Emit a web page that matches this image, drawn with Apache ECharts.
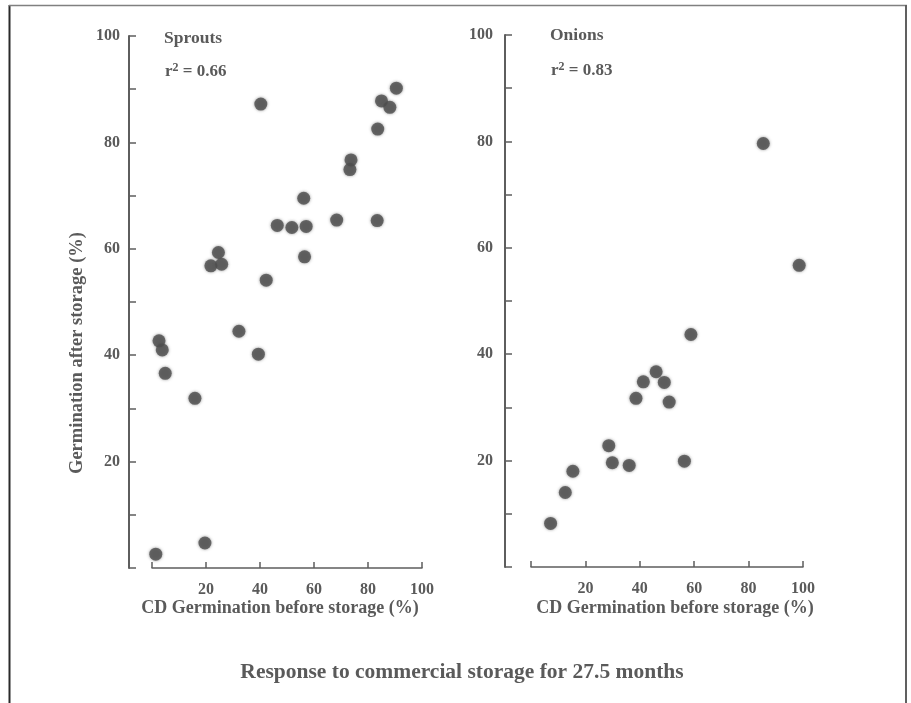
<!DOCTYPE html>
<html>
<head>
<meta charset="utf-8">
<script src="https://cdn.jsdelivr.net/npm/echarts@6/dist/echarts.min.js"></script>
<style>html,body{margin:0;padding:0;background:#fff;}#c{width:911px;height:703px;}</style>
</head>
<body>
<div id="c"></div>
<script>
// Sprouts panel
const sproutsX = [90.5, 85.0, 88.1, 40.3, 83.6, 73.7, 73.3, 56.2, 46.4, 51.8, 57.1, 68.4, 83.4, 56.5, 24.6, 21.8, 25.8, 42.3, 32.2, 39.4, 2.6, 3.8, 4.9, 15.9, 19.6, 1.4];
const sproutsY = [90.2, 87.8, 86.6, 87.2, 82.5, 76.7, 74.9, 69.5, 64.4, 64.0, 64.2, 65.4, 65.3, 58.5, 59.3, 56.8, 57.1, 54.1, 44.5, 40.2, 42.7, 41.0, 36.6, 31.9, 4.7, 2.6];
// Onions panel
const onionsX = [85.4, 98.6, 58.8, 46.0, 41.3, 49.0, 38.6, 50.8, 28.6, 29.9, 36.1, 56.4, 15.4, 12.6, 7.2];
const onionsY = [79.6, 56.7, 43.7, 36.7, 34.8, 34.7, 31.7, 31.0, 22.8, 19.6, 19.1, 19.9, 18.0, 14.0, 8.2];
const xTicks = [0, 20, 40, 60, 80, 100];
const yTicks = [0, 20, 40, 60, 80, 100];
const panelNames = ['Sprouts', 'Onions'];
const r2Values = ['0.66', '0.83'];
const xTitle = 'CD Germination before storage (%)';
const yTitle = 'Germination after storage (%)';
const mainTitle = 'Response to commercial storage for 27.5 months';

const FONT = '"Liberation Serif", "DejaVu Serif", serif';
const TXT = '#5a5a5a';
const AX = '#5e5e5e';

const xMin = xTicks[0], xMax = xTicks[xTicks.length - 1], xStep = xTicks[1] - xTicks[0];
const yMin = yTicks[0], yMax = yTicks[yTicks.length - 1], yStep = yTicks[1] - yTicks[0];

function xAxisCfg(gi) {
  return {
    gridIndex: gi, type: 'value', min: xMin, max: xMax, interval: xStep,
    axisLine: { show: true, onZero: false, lineStyle: { color: AX, width: 1.5 } },
    axisTick: { show: true, inside: true, length: 6, lineStyle: { color: AX, width: 1.5 } },
    splitLine: { show: false },
    axisLabel: { margin: 14, fontFamily: FONT, fontWeight: 'bold', fontSize: 16, color: TXT,
      formatter: v => (v === 0 ? '' : String(v)) }
  };
}
// y axis drawn as the left axis of a grid whose x range starts a little below 0
function yGridX(gi, lo) {
  return { gridIndex: gi, type: 'value', min: lo, max: xMax, show: false };
}
function yAxisCfg(gi, margin) {
  return {
    gridIndex: gi, type: 'value', min: yMin, max: yMax, interval: yStep,
    axisLine: { show: true, onZero: false, lineStyle: { color: AX, width: 2 } },
    axisTick: { show: true, inside: true, length: 7, lineStyle: { color: AX, width: 1.5 } },
    minorTick: { show: true, splitNumber: 2, length: 7, lineStyle: { color: AX, width: 1.5 } },
    splitLine: { show: false }, minorSplitLine: { show: false },
    axisLabel: { margin: margin, fontFamily: FONT, fontWeight: 'bold', fontSize: 16, color: TXT,
      formatter: v => (v === 0 ? '' : String(v)) }
  };
}
function hiddenY(gi) {
  return { gridIndex: gi, type: 'value', min: yMin, max: yMax, show: false };
}
const dotStyle = { color: '#4e4e4e', shadowBlur: 3, shadowColor: 'rgba(70,70,70,0.7)' };

function panelTitle(name, r2, left, topName, topR2) {
  return [
    { text: name, left: left, top: topName,
      textStyle: { fontFamily: FONT, fontWeight: 'bold', fontSize: 17.5, color: TXT } },
    { text: 'r{s|2} = ' + r2, left: left + 1, top: topR2,
      textStyle: { fontFamily: FONT, fontWeight: 'bold', fontSize: 17, color: TXT,
        rich: { s: { fontFamily: FONT, fontWeight: 'bold', fontSize: 12, color: TXT, verticalAlign: 'top', padding: [0, 0, 8, 0] } } } }
  ];
}

const chart = echarts.init(document.getElementById('c'), null, { renderer: 'canvas' });
chart.setOption({
  backgroundColor: '#ffffff',
  animation: false,
  title: [].concat(
    panelTitle(panelNames[0], r2Values[0], 159, 24, 57),
    panelTitle(panelNames[1], r2Values[1], 545, 21, 56)
  ),
  grid: [
    { left: 152, top: 36, width: 270, height: 532 },
    { left: 531, top: 35, width: 272, height: 532 },
    { left: 129, top: 36, width: 293, height: 532 },
    { left: 505, top: 35, width: 298, height: 532 }
  ],
  xAxis: [xAxisCfg(0), xAxisCfg(1), yGridX(2, -8.5), yGridX(3, -9.6)],
  yAxis: [hiddenY(0), hiddenY(1), yAxisCfg(2, 9), yAxisCfg(3, 12)],
  series: [
    { type: 'scatter', xAxisIndex: 0, yAxisIndex: 0, symbolSize: 13, itemStyle: dotStyle,
      data: sproutsX.map((x, i) => [x, sproutsY[i]]) },
    { type: 'scatter', xAxisIndex: 1, yAxisIndex: 1, symbolSize: 13, itemStyle: dotStyle,
      data: onionsX.map((x, i) => [x, onionsY[i]]) }
  ],
  graphic: [
    { type: 'line', shape: { x1: 9.5, y1: 5, x2: 9.5, y2: 703 }, style: { stroke: '#2a2a2a', lineWidth: 2 } },
    { type: 'line', shape: { x1: 9, y1: 5.5, x2: 907, y2: 5.5 }, style: { stroke: '#808080', lineWidth: 1.5 } },
    { type: 'line', shape: { x1: 906, y1: 5, x2: 906, y2: 703 }, style: { stroke: '#606060', lineWidth: 2 } },
    { type: 'text', x: 77, y: 353, rotation: Math.PI / 2,
      style: { text: yTitle, fontFamily: FONT, fontWeight: 'bold', fontSize: 18.5, fill: TXT,
        textAlign: 'center', textVerticalAlign: 'middle' } },
    { type: 'text', x: 280, y: 608,
      style: { text: xTitle, fontFamily: FONT, fontWeight: 'bold', fontSize: 18, fill: TXT,
        textAlign: 'center', textVerticalAlign: 'middle' } },
    { type: 'text', x: 675, y: 608,
      style: { text: xTitle, fontFamily: FONT, fontWeight: 'bold', fontSize: 18, fill: TXT,
        textAlign: 'center', textVerticalAlign: 'middle' } },
    { type: 'text', x: 462, y: 672,
      style: { text: mainTitle, fontFamily: FONT, fontWeight: 'bold', fontSize: 21.5, fill: TXT,
        textAlign: 'center', textVerticalAlign: 'middle' } }
  ]
});
</script>
</body>
</html>
